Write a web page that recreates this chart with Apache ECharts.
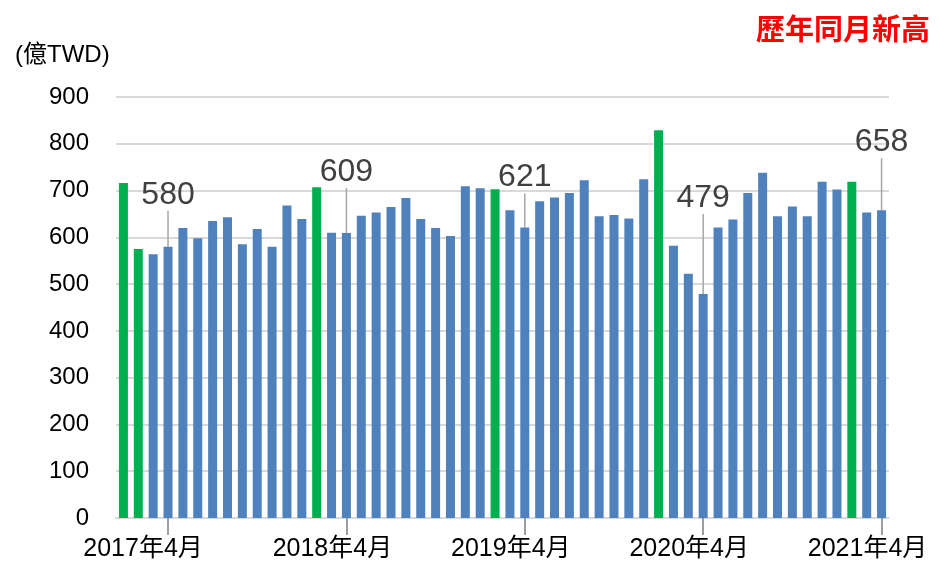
<!DOCTYPE html>
<html><head><meta charset="utf-8">
<script src="https://cdn.jsdelivr.net/npm/echarts@6/dist/echarts.min.js"></script>
<style>html,body{margin:0;padding:0;background:#fff}#c{width:940px;height:562px}</style>
</head><body><div id="c"></div>
<script>
// ---- data ----
const years = [2017, 2018, 2019, 2020, 2021];
const categories = [];
years.forEach(y => { for (let m = 1; m <= 12; m++) { if (y === 2021 && m > 4) break; categories.push(y + '年' + m + '月'); } });
const values = [
  716, 575, 564, 580, 620, 598, 635, 643, 585, 618, 580, 668,
  639, 707, 610, 609, 646, 653, 665, 684, 639, 620, 603, 709,
  705, 703, 658, 621, 677, 685, 695, 722, 645, 648, 640, 724,
  829, 582, 522, 479, 621, 638, 695, 738, 645, 666, 645, 719,
  702, 719, 653, 658
];
const recordMonths = ['2017年1月', '2017年2月', '2018年2月', '2019年2月', '2020年1月', '2021年2月'];
const labeledMonths = ['2017年4月', '2018年4月', '2019年4月', '2020年4月', '2021年4月'];
const yTicks = [0, 100, 200, 300, 400, 500, 600, 700, 800, 900];
const unitText = '(億TWD)';
const titleText = '歷年同月新高';

// ---- styling ----
const BLUE = '#4f81bd', GREEN = '#00b050';
const labelLift = { '2017年4月': 36, '2018年4月': 45, '2019年4月': 34, '2020年4月': 80, '2021年4月': 52 };
const FONT = '"Liberation Sans", Arial, "Noto Sans CJK TC", sans-serif';

const seriesData = values.map((v, i) => {
  const cat = categories[i];
  const item = { value: v, itemStyle: { color: recordMonths.includes(cat) ? GREEN : BLUE } };
  if (labeledMonths.includes(cat)) item.label = { show: true };
  return item;
});

const chart = echarts.init(document.getElementById('c'), null, { renderer: 'canvas' });
chart.setOption({
  animation: false,
  backgroundColor: '#fff',
  title: [
    { text: titleText, right: 5, top: 9, textStyle: { color: '#ff0000', fontSize: 29, fontWeight: 'bold', fontFamily: '"Noto Sans CJK TC", sans-serif' } },
    { text: unitText, left: 10, top: 38, textStyle: { color: '#000', fontSize: 24, fontWeight: 'normal', fontFamily: FONT } }
  ],
  grid: { left: 116, right: 51, top: 97, bottom: 44, containLabel: false, outerBoundsMode: 'none' },
  xAxis: {
    type: 'category', data: categories,
    axisLine: { show: true, lineStyle: { color: '#d9d9d9', width: 2 } },
    axisTick: { show: true, alignWithLabel: true, length: 17, interval: (i) => i % 12 === 3, lineStyle: { color: '#7f7f7f', width: 1.5 } },
    axisLabel: {
      interval: (i) => i % 12 === 3, color: '#000', fontSize: 25, fontFamily: FONT, margin: 19,
      formatter: (v, i) => (i === 3 ? '{f|' + v + '}' : '{o|' + v + '}'),
      rich: {
        f: { fontSize: 25, fontFamily: FONT, color: '#000', padding: [0, 50, 0, 0] },
        o: { fontSize: 25, fontFamily: FONT, color: '#000', padding: [0, 28, 0, 0] }
      }
    }
  },
  yAxis: {
    type: 'value', min: yTicks[0], max: yTicks[yTicks.length - 1], interval: 100,
    axisLine: { show: false }, axisTick: { show: false },
    axisLabel: { color: '#000', fontSize: 24, fontFamily: FONT, margin: 27 },
    splitLine: { lineStyle: { color: '#d9d9d9', width: 2 } }
  },
  series: [{
    type: 'bar', data: seriesData, barWidth: 9,
    label: { show: false, position: 'top', distance: 0, color: '#404040', fontSize: 32, fontFamily: FONT },
    labelLine: { show: true, lineStyle: { color: '#a6a6a6', width: 1.5 } },
    labelLayout: (p) => {
      const cat = categories[p.dataIndex];
      if (labelLift[cat] === undefined) return {};
      return { dy: -labelLift[cat] };
    }
  }]
});
</script></body></html>
